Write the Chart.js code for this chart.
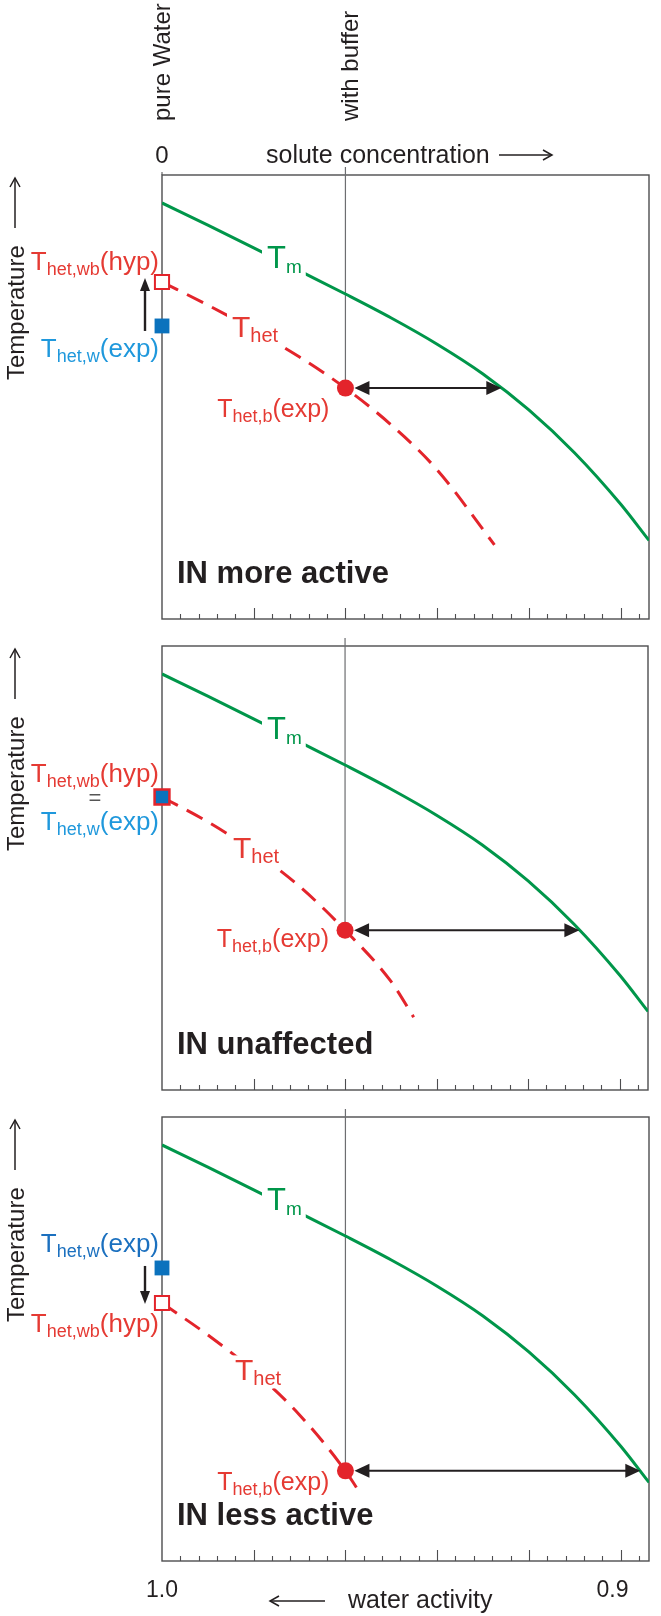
<!DOCTYPE html>
<html>
<head>
<meta charset="utf-8">
<title>IN activity vs. water activity</title>
<script src="https://cdn.jsdelivr.net/npm/chart.js@4.4.1/dist/chart.umd.min.js"></script>
<style>
  html, body { margin: 0; padding: 0; background: #fff; }
  #page { position: relative; width: 661px; height: 1616px; }
  #page canvas { position: absolute; left: 0; }
</style>
</head>
<body>
<div id="page">
  <canvas id="p1" width="661" height="633" style="top:0"></canvas>
  <canvas id="p2" width="661" height="471" style="top:633px"></canvas>
  <canvas id="p3" width="661" height="512" style="top:1104px"></canvas>
</div>
<script>
// Values. x = water activity, y = temperature (arbitrary units, 0-100 per panel).
const awTm   = [1.0, 0.99, 0.98, 0.97, 0.96, 0.95, 0.94, 0.93, 0.92, 0.91, 0.90, 0.8938];
const tempTm = [93.7, 88.7, 83.6, 78.4, 73.2, 67.8, 61.9, 55.2, 47.1, 37.4, 25.9, 17.7];

const awHet1   = [1.0, 0.99, 0.98, 0.97, 0.96, 0.95, 0.94, 0.9275];
const tempHet1 = [75.9, 70.7, 65.1, 59.0, 52.0, 43.7, 33.6, 16.7];
const awHet2   = [1.0, 0.99, 0.98, 0.97, 0.96, 0.95, 0.945];
const tempHet2 = [66.0, 60.4, 53.8, 45.9, 36.0, 24.5, 16.4];
const awHet3   = [1.0, 0.99, 0.98, 0.97, 0.96, 0.9575];
const tempHet3 = [58.1, 50.9, 42.8, 32.9, 20.3, 16.4];

const awPure = 1.0;
const awBuffer = 0.96;
const expTemp = [66.0, 66.0, 66.0];        // T_het,w(exp)  pure water
const hypTemp = [75.9, 66.0, 58.1];        // T_het,wb(hyp)
const bufTemp = [52.0, 36.0, 20.3];        // T_het,b(exp)  with buffer
const arrowEndAw = [0.926, 0.9088, 0.8957]; // where Tm reaches T_het,b(exp)
const panelTitles = ["IN more active", "IN unaffected", "IN less active"];
const xLabelAw = [1.0, 0.9];
const xLabelText = ["1.0", "0.9"];
const awMin = 0.8938, awMax = 1.0, tempMin = 0, tempMax = 100;

const FONT = "'Liberation Sans', Arial, Helvetica, sans-serif";
const INK = "#231f20", FRAME = "#4d4d4f", GREY = "#6d6e71";
const GREEN = "#00964a", RED = "#e3242b", BLUE = "#0b72bd", TXT_RED = "#e53a33";
const TXT_BLUE = ["#1f98dc", "#1f98dc", "#1b70bf"];

const TM_LABEL  = [["T", 31], ["m", 19, 5]];
const HET_LABEL = [["T", 30], ["het", 20, 5]];
const HYP_LABEL = [["T", 26], ["het,wb", 18, 5], ["(hyp)", 26]];
const EXP_LABEL = [["T", 26], ["het,w", 18, 5], ["(exp)", 26]];
const BUF_LABEL = [["T", 25], ["het,b", 18, 5], ["(exp)", 25]];

// per-panel placement (pixels relative to the plot box)
const layouts = [
  { id: "p1", top: 175, bottom: 14, hyp: 95,  exp: 182, eq: null, het: [70, 162], bufDy: 29, vArrow: [5, -4] },
  { id: "p2", top: 13,  bottom: 14, hyp: 136, exp: 184, eq: 159,  het: [71, 212], bufDy: 17, vArrow: null },
  { id: "p3", top: 13,  bottom: 55, hyp: 215, exp: 135, eq: null, het: [73, 263], bufDy: 19, vArrow: [-2, 1] },
];

function rich(ctx, parts, x, y, align, color, knockout) {
  let w = 0;
  parts.forEach(p => { ctx.font = p[1] + "px " + FONT; w += ctx.measureText(p[0]).width; });
  let cx = align === "right" ? x - w : align === "center" ? x - w / 2 : x;
  if (knockout) {
    ctx.fillStyle = "#fff";
    ctx.fillRect(cx - 5, y - parts[0][1] * 0.82, w + 9, parts[0][1] * 1.1);
  }
  ctx.fillStyle = color;
  ctx.textAlign = "left";
  ctx.textBaseline = "alphabetic";
  parts.forEach(p => {
    ctx.font = p[1] + "px " + FONT;
    ctx.fillText(p[0], cx, y + (p[2] || 0));
    cx += ctx.measureText(p[0]).width;
  });
}

function head(ctx, tx, ty, dx, dy, len, half) {
  ctx.beginPath();
  ctx.moveTo(tx, ty);
  ctx.lineTo(tx - dx * len - dy * half, ty - dy * len + dx * half);
  ctx.lineTo(tx - dx * len + dy * half, ty - dy * len - dx * half);
  ctx.closePath();
  ctx.fill();
}

function thinArrow(ctx, x1, y1, x2, y2) {
  const d = Math.hypot(x2 - x1, y2 - y1), dx = (x2 - x1) / d, dy = (y2 - y1) / d;
  ctx.strokeStyle = INK; ctx.lineWidth = 1.5;
  ctx.beginPath(); ctx.moveTo(x1, y1); ctx.lineTo(x2, y2); ctx.stroke();
  ctx.beginPath();
  ctx.moveTo(x2 - dx * 9 - dy * 5, y2 - dy * 9 + dx * 5);
  ctx.lineTo(x2, y2);
  ctx.lineTo(x2 - dx * 9 + dy * 5, y2 - dy * 9 - dx * 5);
  ctx.stroke();
}

function rotated(ctx, text, bx, by, size) {
  ctx.save();
  ctx.translate(bx, by);
  ctx.rotate(-Math.PI / 2);
  ctx.font = size + "px " + FONT;
  ctx.fillStyle = INK; ctx.textAlign = "left"; ctx.textBaseline = "alphabetic";
  ctx.fillText(text, 0, 0);
  ctx.restore();
}

function decor(i) {
  const L = layouts[i];
  return {
    id: "decor" + i,
    beforeDatasetsDraw(chart) {
      const { ctx, chartArea: a, scales: { x } } = chart;
      ctx.save();
      ctx.strokeStyle = FRAME; ctx.lineWidth = 1.4;
      ctx.strokeRect(a.left, a.top, a.right - a.left, a.bottom - a.top);
      // inward ticks: minor every 0.004, major every 0.02
      ctx.lineWidth = 1.1;
      for (let k = 1; awMax - k * 0.004 > awMin; k++) {
        const px = Math.round(x.getPixelForValue(awMax - k * 0.004)) + 0.5;
        ctx.beginPath();
        ctx.moveTo(px, a.bottom);
        ctx.lineTo(px, a.bottom - (k % 5 === 0 ? 11 : 5));
        ctx.stroke();
      }
      ctx.restore();
    },
    afterDatasetsDraw(chart) {
      const { ctx, chartArea: a, scales: { x, y } } = chart;
      const x0 = x.getPixelForValue(awPure), xb = x.getPixelForValue(awBuffer);
      const yExp = y.getPixelForValue(expTemp[i]), yHyp = y.getPixelForValue(hypTemp[i]);
      const yBuf = y.getPixelForValue(bufTemp[i]);
      ctx.save();

      rich(ctx, TM_LABEL, x0 + 105, a.top + 93, "left", GREEN, true);
      rich(ctx, HET_LABEL, x0 + L.het[0], a.top + L.het[1], "left", TXT_RED, true);

      // double arrow from T_het,b(exp) to the melting curve
      const xe = x.getPixelForValue(arrowEndAw[i]);
      ctx.strokeStyle = INK; ctx.fillStyle = INK; ctx.lineWidth = 2;
      ctx.beginPath(); ctx.moveTo(xb + 20, yBuf); ctx.lineTo(xe - 12, yBuf); ctx.stroke();
      head(ctx, xb + 9, yBuf, -1, 0, 15, 7);
      head(ctx, xe, yBuf, 1, 0, 15, 7);
      rich(ctx, BUF_LABEL, xb - 16, yBuf + L.bufDy, "right", TXT_RED);

      // pure-water labels left of the axis
      rich(ctx, HYP_LABEL, x0 - 3, a.top + L.hyp, "right", TXT_RED);
      rich(ctx, EXP_LABEL, x0 - 3, a.top + L.exp, "right", TXT_BLUE[i]);
      if (L.eq) {
        ctx.font = "22px " + FONT; ctx.fillStyle = "#555"; ctx.textAlign = "center";
        ctx.fillText("=", x0 - 67, a.top + L.eq);
      }
      if (L.vArrow) {
        const t0 = yExp + L.vArrow[0], t1 = yHyp + L.vArrow[1], dir = t1 < t0 ? -1 : 1;
        ctx.strokeStyle = INK; ctx.fillStyle = INK; ctx.lineWidth = 2.4;
        ctx.beginPath(); ctx.moveTo(x0 - 17, t0); ctx.lineTo(x0 - 17, t1 - dir * 8); ctx.stroke();
        head(ctx, x0 - 17, t1, 0, dir, 13, 5);
      }

      // temperature axis caption
      rotated(ctx, "Temperature", 24, a.top + 205, 24);
      thinArrow(ctx, 15, a.top + 53, 15, a.top + 3);

      ctx.font = "bold 31px " + FONT; ctx.fillStyle = INK; ctx.textAlign = "left";
      ctx.fillText(panelTitles[i], x0 + 15, a.top + 408);

      if (i === 0) {
        rotated(ctx, "pure Water", x0 + 8, 121, 24);
        rotated(ctx, "with buffer", xb + 13, 121, 24);
        ctx.font = "24px " + FONT; ctx.fillStyle = INK; ctx.textAlign = "center";
        ctx.fillText("0", x0, a.top - 12);
        ctx.font = "25px " + FONT; ctx.textAlign = "left";
        ctx.fillText("solute concentration", x0 + 104, a.top - 12);
        thinArrow(ctx, x0 + 337, a.top - 20, x0 + 390, a.top - 20);
        ctx.strokeStyle = FRAME; ctx.lineWidth = 1;
        ctx.beginPath(); ctx.moveTo(x0, a.top); ctx.lineTo(x0, a.top - 3); ctx.stroke();
      }
      if (i === 2) {
        ctx.font = "23px " + FONT; ctx.fillStyle = INK; ctx.textAlign = "center";
        xLabelAw.forEach((v, k) => {
          const px = x.getPixelForValue(v) - (k === xLabelAw.length - 1 ? 8 : 0);
          ctx.fillText(xLabelText[k], px, a.bottom + 36);
        });
        ctx.font = "25px " + FONT; ctx.textAlign = "left";
        ctx.fillText("water activity", x0 + 186, a.bottom + 47);
        thinArrow(ctx, x0 + 163, a.bottom + 40, x0 + 108, a.bottom + 40);
      }
      ctx.restore();
    }
  };
}

function datasets(i) {
  const aw = [awHet1, awHet2, awHet3][i], tt = [tempHet1, tempHet2, tempHet3][i];
  const list = [
    { label: "T_het,b(exp)", data: [{ x: awBuffer, y: bufTemp[i] }],
      pointRadius: 8.5, pointBackgroundColor: RED, pointBorderWidth: 0, clip: false },
    { label: "T_het,w(exp)", data: [{ x: awPure, y: expTemp[i] }], pointStyle: "rect",
      pointRadius: 10.5, pointBackgroundColor: BLUE,
      pointBorderColor: i === 1 ? RED : BLUE, pointBorderWidth: i === 1 ? 2.5 : 0, clip: false },
  ];
  if (i !== 1) {
    list.push({ label: "T_het,wb(hyp)", data: [{ x: awPure, y: hypTemp[i] }], pointStyle: "rect",
      pointRadius: 10, pointBackgroundColor: "#fff", pointBorderColor: RED, pointBorderWidth: 2, clip: false });
  }
  list.push(
    { label: "Tm", data: awTm.map((v, k) => ({ x: v, y: tempTm[k] })), showLine: true,
      borderColor: GREEN, borderWidth: 3, pointRadius: 0, cubicInterpolationMode: "monotone" },
    { label: "Thet", data: aw.map((v, k) => ({ x: v, y: tt[k] })), showLine: true,
      borderColor: RED, borderWidth: 3, borderDash: [18, 10], pointRadius: 0, cubicInterpolationMode: "monotone" },
    { label: "buffer", data: [{ x: awBuffer, y: tempMax + 1.8 }, { x: awBuffer, y: bufTemp[i] }], showLine: true,
      borderColor: GREY, borderWidth: 1.2, pointRadius: 0, clip: false }
  );
  return list;
}

layouts.forEach((L, i) => {
  new Chart(document.getElementById(L.id), {
    type: "scatter",
    data: { datasets: datasets(i) },
    options: {
      responsive: false,
      animation: false,
      devicePixelRatio: 1,
      events: [],
      layout: { padding: { left: 162, right: 4, top: L.top, bottom: L.bottom } },
      plugins: { legend: { display: false }, tooltip: { enabled: false } },
      scales: {
        x: { type: "linear", min: awMin, max: awMax, reverse: true, display: false },
        y: { type: "linear", min: tempMin, max: tempMax, display: false },
      },
    },
    plugins: [decor(i)],
  });
});
</script>
</body>
</html>
